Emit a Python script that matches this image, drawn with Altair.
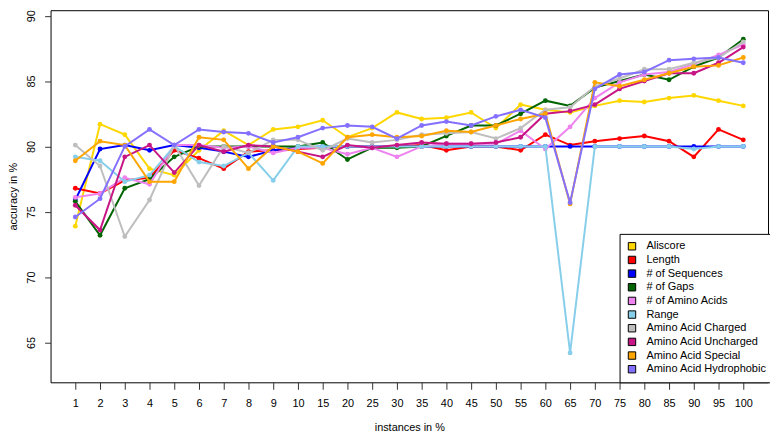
import altair as alt
import pandas as pd

categories = ["1", "2", "3", "4", "5", "6", "7", "8", "9", "10",
              "15", "20", "25", "30", "35", "40", "45", "50", "55", "60",
              "65", "70", "75", "80", "85", "90", "95", "100"]

series_names = ["Aliscore", "Length", "# of Sequences", "# of Gaps", "# of Amino Acids",
                "Range", "Amino Acid Charged", "Amino Acid Uncharged",
                "Amino Acid Special", "Amino Acid Hydrophobic"]

series_colors = ["#FFD700", "#FF0000", "#0000FF", "#006400", "#EE82EE",
                 "#87CEEB", "#BEBEBE", "#C71585", "#FFA500", "#8470FF"]

aliscore = [73.9, 81.7, 80.9, 78.3, 77.8, 79.7, 81.2, 80.1, 81.3, 81.5,
            82.0, 80.7, 81.4, 82.6, 82.1, 82.2, 82.6, 81.4, 83.2, 82.8,
            82.6, 83.1, 83.5, 83.4, 83.7, 83.9, 83.5, 83.1]
length = [76.8, 76.4, 77.4, 77.6, 79.7, 79.1, 78.3, 79.6, 79.7, 79.8,
          79.9, 80.0, 80.0, 80.0, 80.1, 79.7, 80.0, 80.0, 79.7, 80.9,
          80.1, 80.4, 80.6, 80.8, 80.4, 79.2, 81.3, 80.5]
n_sequences = [75.9, 79.8, 80.1, 79.7, 80.1, 79.9, 79.6, 79.2, 79.7, 79.9,
               80.0, 80.0, 80.0, 80.0, 80.0, 80.0, 80.0, 80.0, 80.0, 80.0,
               80.0, 80.0, 80.0, 80.0, 80.0, 80.0, 80.0, 80.0]
n_gaps = [75.8, 73.2, 76.8, 77.5, 79.2, 80.0, 80.0, 80.0, 80.0, 80.0,
          80.3, 79.0, 79.9, 79.9, 80.0, 80.8, 81.6, 81.6, 82.5, 83.5,
          83.1, 84.5, 85.0, 85.5, 85.1, 86.1, 86.8, 88.2]
n_amino_acids = [76.1, 76.4, 77.6, 77.1, 80.1, 80.1, 79.9, 80.0, 79.5, 79.9,
                 79.9, 79.4, 79.9, 79.2, 80.0, 80.2, 80.2, 80.2, 81.2, 79.8,
                 81.5, 83.7, 84.9, 85.5, 85.7, 86.3, 87.0, 87.8]
range_ = [79.2, 78.9, 77.3, 77.8, 80.0, 78.8, 78.5, 79.5, 77.4, 80.0,
          80.0, 80.0, 80.0, 80.0, 80.0, 80.0, 80.0, 80.0, 80.0, 80.0,
          64.2, 80.0, 80.0, 80.0, 80.0, 79.8, 80.0, 80.0]
aa_charged = [80.1, 78.5, 73.1, 75.9, 80.1, 77.0, 80.0, 79.5, 80.5, 80.5,
              79.7, 80.6, 80.3, 80.5, 80.9, 81.0, 81.1, 80.6, 81.4, 82.8,
              83.0, 84.6, 85.2, 85.9, 85.9, 86.4, 86.8, 88.0]
aa_uncharged = [75.5, 73.6, 79.2, 80.1, 78.0, 80.1, 79.6, 80.1, 80.0, 79.6,
                79.2, 80.1, 79.9, 80.1, 80.3, 80.2, 80.2, 80.3, 80.7, 82.5,
                82.7, 83.2, 84.4, 85.0, 85.6, 85.6, 86.4, 87.6]
aa_special = [78.9, 80.4, 80.1, 77.3, 77.3, 80.7, 80.5, 78.3, 80.0, 79.6,
              78.7, 80.7, 80.9, 80.7, 80.8, 81.2, 81.1, 81.6, 82.1, 82.5,
              75.6, 84.9, 84.6, 85.1, 85.6, 86.1, 86.2, 86.8]
aa_hydrophobic = [74.6, 76.0, 80.0, 81.3, 80.1, 81.3, 81.1, 81.0, 80.3, 80.7,
                  81.4, 81.6, 81.5, 80.6, 81.6, 81.9, 81.6, 82.3, 82.8, 82.2,
                  75.7, 84.4, 85.5, 85.7, 86.6, 86.7, 86.8, 86.4]

series_values = [aliscore, length, n_sequences, n_gaps, n_amino_acids, range_,
                 aa_charged, aa_uncharged, aa_special, aa_hydrophobic]

rows = []
for name, vals in zip(series_names, series_values):
    for c, v in zip(categories, vals):
        rows.append({"instances": c, "accuracy": v, "series": name})
df = pd.DataFrame(rows)

FONT = "Liberation Sans"

x_enc = alt.X(
    "instances:O",
    sort=categories,
    scale=alt.Scale(type="point", padding=1.06),
    axis=alt.Axis(
        title="instances in %", labelAngle=0, tickSize=7, labelPadding=8,
        domain=False, grid=False, tickColor="#333333", labelColor="black",
        labelFontSize=11, titleFontSize=11, titleFontWeight="normal",
        titleY=40, titleBaseline="top", titleColor="black",
    ),
)
y_enc = alt.Y(
    "accuracy:Q",
    scale=alt.Scale(domain=[61.95, 90.42], nice=False, zero=False),
    axis=alt.Axis(
        title="accuracy in %", values=[65, 70, 75, 80, 85, 90], tickSize=6,
        labelAngle=270, labelAlign="center", labelBaseline="bottom",
        labelPadding=8, domain=False, grid=False, tickColor="#333333",
        labelColor="black", labelFontSize=11, titleFontSize=11,
        titleFontWeight="normal", titleAngle=270, titleX=-43, titleY=188,
        titleAlign="center", titleBaseline="top", titleColor="black",
    ),
)

color_scale = alt.Scale(domain=series_names, range=series_colors)
legend = alt.Legend(
    title=None, orient="none", legendX=575, legendY=226,
    symbolType="square", symbolSize=56, symbolOpacity=1,
    symbolStrokeColor="black", symbolStrokeWidth=1,
    labelFontSize=11.1, labelColor="black",
    labelOffset=9, rowPadding=0.8, padding=7,
    strokeColor="black", fillColor="white", labelLimit=200,
)
color_enc = alt.Color("series:N", scale=color_scale, legend=legend)

layers = []
for name, col in zip(series_names, series_colors):
    base = alt.Chart(df).transform_filter(alt.datum.series == name)
    line = base.mark_line(strokeWidth=2, color=col).encode(x=x_enc, y=y_enc)
    pts = base.mark_circle(size=24, opacity=1).encode(x=x_enc, y=y_enc, color=color_enc)
    layers += [line, pts]

chart = alt.layer(*layers).properties(
    width=725, height=376,
    padding={"left": 43, "top": 0, "right": 2, "bottom": 52},
    autosize=alt.AutoSizeParams(type="none"),
).configure(font=FONT).configure_view(stroke="black", strokeWidth=1)

chart.save("out.html", embed_options={"renderer": "svg", "actions": False})
